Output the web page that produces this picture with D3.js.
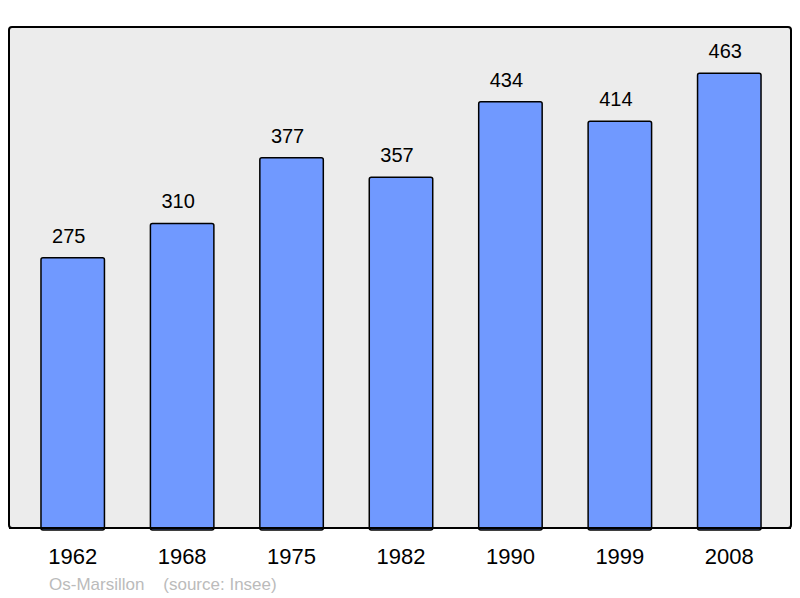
<!DOCTYPE html>
<html>
<head>
<meta charset="utf-8">
<script src="https://cdn.jsdelivr.net/npm/d3@7"></script>
<style>
  html, body { margin: 0; padding: 0; background: #fff; }
  text { font-family: "Liberation Sans", Arial, sans-serif; }
</style>
</head>
<body>
<div id="chart"></div>
<script>
'use strict'

const years = ['1962', '1968', '1975', '1982', '1990', '1999', '2008']
const population = [275, 310, 377, 357, 434, 414, 463]
const commune = 'Os-Marsillon'
const source = '(source: Insee)'

const width = 800
const height = 598
const frame = { left: 9, top: 27, right: 791, bottom: 528 }

const svg = d3.select('#chart')
  .append('svg')
  .attr('width', width)
  .attr('height', height)

// plot background
svg.append('rect')
  .attr('x', frame.left)
  .attr('y', frame.top)
  .attr('width', frame.right - frame.left)
  .attr('height', frame.bottom - frame.top)
  .attr('rx', 3)
  .style('fill', '#ececec')
  .style('stroke', '#000')
  .style('stroke-width', 2)

const x = d3.scaleBand()
  .domain(years)
  .range([18, 784])
  .paddingInner(0.42)
  .paddingOuter(0.21)

const y = d3.scaleLinear()
  .domain([0, 510])
  .range([frame.bottom, frame.top])

const data = years.map((yr, i) => ({ year: yr, value: population[i] }))

svg.append('g')
  .selectAll('rect')
  .data(data)
  .enter()
  .append('rect')
  .attr('x', d => x(d.year))
  .attr('y', d => y(d.value))
  .attr('width', x.bandwidth())
  .attr('height', d => y(0) - y(d.value) + 2)
  .attr('rx', 2)
  .style('fill', '#7099ff')
  .style('stroke', '#000')
  .style('stroke-width', 1.5)

// redraw bottom edge over bar bottoms
svg.append('line')
  .attr('x1', frame.left)
  .attr('x2', frame.right)
  .attr('y1', frame.bottom)
  .attr('y2', frame.bottom)
  .style('stroke', '#000')
  .style('stroke-width', 2)

// value labels (sit a little left of the bar centre)
svg.append('g')
  .selectAll('text')
  .data(data)
  .enter()
  .append('text')
  .attr('x', d => x(d.year) + x.bandwidth() / 2 - 4)
  .attr('y', d => y(d.value) - 15)
  .attr('text-anchor', 'middle')
  .style('font-size', '20px')
  .style('fill', '#000')
  .text(d => d.value)

// year labels
svg.append('g')
  .selectAll('text')
  .data(years)
  .enter()
  .append('text')
  .attr('x', d => x(d) + x.bandwidth() / 2)
  .attr('y', 564)
  .attr('text-anchor', 'middle')
  .style('font-size', '22px')
  .style('fill', '#000')
  .text(d => d)

svg.append('text')
  .attr('x', 49)
  .attr('y', 590)
  .style('font-size', '17px')
  .style('fill', '#bbb')
  .attr('xml:space', 'preserve')
  .text(commune + '    ' + source)
</script>
</body>
</html>
